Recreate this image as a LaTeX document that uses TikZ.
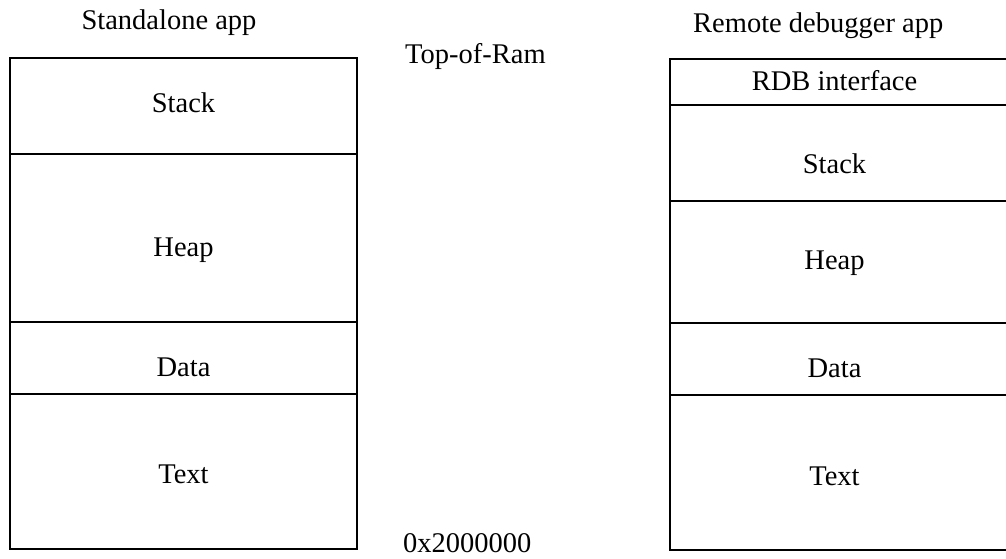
\documentclass[tikz,border=0pt]{standalone}
\usepackage{fontspec}
\setmainfont{Liberation Serif}
\tikzset{
  frame/.style={line width=2pt, line cap=rect},
  lbl/.style={inner sep=0pt, font=\fontsize{28.5}{34}\selectfont},
}
\begin{document}
\begin{tikzpicture}[x=1pt,y=-1pt]
\useasboundingbox (0,0) rectangle (1006,558);
% left box
\draw[frame] (10,58) rectangle (357,549);
\draw[frame] (10,154) -- (357,154);
\draw[frame] (10,322) -- (357,322);
\draw[frame] (10,394) -- (357,394);
% right box (right edge off the picture)
\draw[frame] (1008,59) -- (670,59) -- (670,550) -- (1008,550);
\draw[frame] (670,105) -- (1008,105);
\draw[frame] (670,201) -- (1008,201);
\draw[frame] (670,322.5) -- (1008,322.5);
\draw[frame] (670,394.5) -- (1008,394.5);
% titles
\node[lbl, anchor=base] (tl) at (169,29) {Standalone app};
\node[lbl, anchor=base west] (tr) at (693,32) {Remote debugger app};
\node[lbl, anchor=base west] (top) at (405,63) {Top-of-Ram};
\node[lbl, anchor=base west] (bot) at (403,552) {0x2000000};
% left labels
\node[lbl, anchor=base] (ls) at (183.5,112) {Stack};
\node[lbl, anchor=base] (lh) at (183.5,256) {Heap};
\node[lbl, anchor=base] (ld) at (183.5,376) {Data};
\node[lbl, anchor=base] (lt) at (183.5,483.5) {Text};
% right labels
\node[lbl, anchor=base] (rr) at (834.5,90) {RDB interface};
\node[lbl, anchor=base] (rs) at (834.5,173) {Stack};
\node[lbl, anchor=base] (rh) at (834.5,269.5) {Heap};
\node[lbl, anchor=base] (rd) at (834.5,377) {Data};
\node[lbl, anchor=base] (rt) at (834.5,485) {Text};
\end{tikzpicture}
\end{document}
